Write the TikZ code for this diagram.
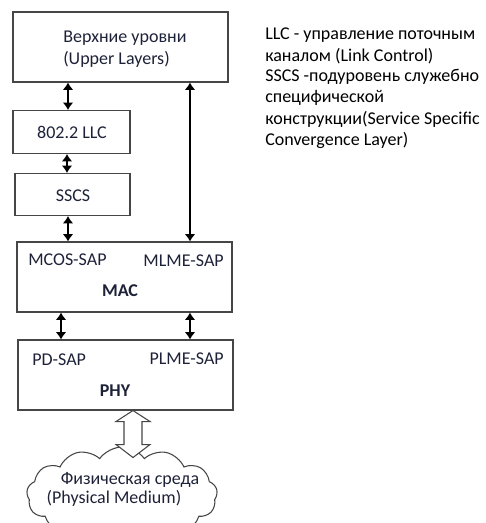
\documentclass[tikz,border=0pt]{standalone}
\usepackage{fontspec}
\setmainfont{Carlito}
\usetikzlibrary{arrows.meta,shapes.symbols,calc}
\definecolor{txt}{RGB}{30,34,56}
\definecolor{edge}{RGB}{70,70,70}
\tikzset{
  box/.style={draw=edge,line width=0.8pt,rectangle,inner sep=0pt},
  lbl/.style={text=txt,font=\fontsize{13.5}{16}\selectfont,inner sep=0pt},
  boldlbl/.style={lbl,font=\fontsize{13.5}{16}\selectfont\bfseries},
  noteline/.style={lbl,text=black,anchor=west},
  dbl/.style={line width=2pt,{Latex[length=5.5pt,width=8pt]}-{Latex[length=5.5pt,width=8pt]}},
}
\begin{document}
\begin{tikzpicture}[x=0.75pt,y=-0.75pt]
\useasboundingbox (0,0) rectangle (485,523);
% boxes
\node[box,minimum width=161.25pt,minimum height=52.5pt] (upper) at (120.5,47) {};
\node[box,minimum width=87.75pt,minimum height=32.25pt] (llc) at (71.5,132) {};
\node[box,minimum width=86.25pt,minimum height=31.5pt] (sscs) at (72.5,194.5) {};
\node[box,minimum width=161.25pt,minimum height=52.5pt] (mac) at (124.5,277) {};
\node[box,minimum width=161.25pt,minimum height=52.5pt] (phy) at (125.5,375) {};
% texts
\node[lbl,anchor=west] (upt1) at (63,38) {Верхние уровни};
\node[lbl,anchor=west] (upt2) at (63,59) {(Upper Layers)};
\node[lbl] (llct) at (72,132) {802.2 LLC};
\node[lbl] (sscst) at (73,196) {SSCS};
\node[lbl,anchor=west] (mcos) at (28,260) {MCOS-SAP};
\node[lbl,anchor=east] (mlme) at (224,261) {MLME-SAP};
\node[boldlbl] (mact) at (120,291) {MAC};
\node[lbl,anchor=west] (pd) at (32,360) {PD-SAP};
\node[lbl,anchor=east] (plme) at (224,359) {PLME-SAP};
\node[boldlbl] (phyt) at (115,391) {PHY};
% note
\node[noteline] (n1) at (265,35) {LLC - управление поточным};
\node[noteline] (n2) at (265,56) {каналом (Link Control)};
\node[noteline] (n3) at (265,77) {SSCS -подуровень служебно};
\node[noteline] (n4) at (265,98) {специфической};
\node[noteline] (n5) at (265,119) {конструкции(Service Specific};
\node[noteline] (n6) at (265,140) {Convergence Layer)};
% connectors
\draw[dbl] (68,0 |- upper.south) -- (68,0 |- llc.north);
\draw[dbl] (67,0 |- llc.south) -- (67,0 |- sscs.north);
\draw[dbl] (68,0 |- sscs.south) -- (68,0 |- mac.north);
\draw[dbl] (190,0 |- upper.south) -- (190,0 |- mac.north);
\draw[dbl] (61,0 |- mac.south) -- (61,0 |- phy.north);
\draw[dbl] (190,0 |- mac.south) -- (190,0 |- phy.north);
% cloud
\node[cloud,draw=edge,line width=0.8pt,cloud puffs=13,cloud puff arc=110,minimum width=143pt,minimum height=72pt,aspect=2.2] (medium) at (122,495) {};
\node[lbl] (medt1) at (130,480) {Физическая среда};
\node[lbl] (medt2) at (114,498) {(Physical Medium)};
% hollow double arrow
\coordinate (ha) at (133,0 |- phy.south);
\draw[edge,line width=0.8pt,fill=white,line join=miter]
  (ha) -- ++(-17,11) -- ++(8,0) -- ++(0,23) -- ++(-8,0) -- ++(17,13)
  -- ++(17,-13) -- ++(-8,0) -- ++(0,-23) -- ++(8,0) -- cycle;
\end{tikzpicture}
\end{document}
